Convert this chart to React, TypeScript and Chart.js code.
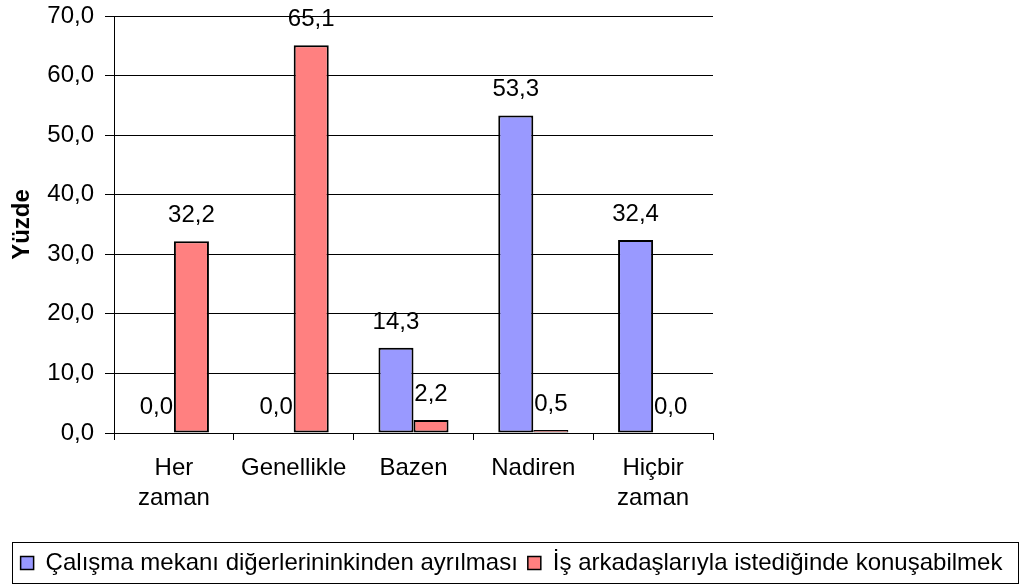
import React, { useEffect, useRef } from "react";
import { Chart, registerables } from "chart.js";

Chart.register(...registerables);

const categories: (string | string[])[] = [
  ["Her", "zaman"],
  "Genellikle",
  "Bazen",
  "Nadiren",
  ["Hiçbir", "zaman"],
];
const seriesNames = [
  "Çalışma mekanı diğerlerininkinden ayrılması",
  "İş arkadaşlarıyla istediğinde konuşabilmek",
];
const calismaMekani = [0.0, 0.0, 14.3, 53.3, 32.4];
const isArkadaslari = [32.2, 65.1, 2.2, 0.5, 0.0];
const yTickLabels = ["0,0", "10,0", "20,0", "30,0", "40,0", "50,0", "60,0", "70,0"];
const yTitle = "Yüzde";

const FONT = "'Liberation Sans', Arial, sans-serif";
const fmt = (v: number) => v.toFixed(1).replace(".", ",");

const dataLabelPlugin = {
  id: "dataLabels",
  afterDatasetsDraw(chart: any) {
    const ctx = chart.ctx;
    ctx.save();
    ctx.font = `24px ${FONT}`;
    ctx.fillStyle = "#000";
    ctx.textAlign = "center";
    ctx.textBaseline = "alphabetic";
    chart.data.datasets.forEach((ds: any, di: number) => {
      const meta = chart.getDatasetMeta(di);
      meta.data.forEach((el: any, i: number) => {
        const v = ds.data[i] as number;
        ctx.fillText(fmt(v), el.x, el.y - 19);
      });
    });
    ctx.restore();
  },
};

const legendBorderPlugin = {
  id: "legendBorder",
  afterDraw(chart: any) {
    const lg = chart.legend;
    if (!lg || !lg.legendHitBoxes || !lg.legendHitBoxes.length) return;
    const hb = lg.legendHitBoxes;
    const first = hb[0];
    const last = hb[hb.length - 1];
    const left = first.left - 9;
    const right = last.left + last.width + 15;
    const top = first.top - 9;
    const bottom = first.top + first.height + 9;
    const ctx = chart.ctx;
    ctx.save();
    ctx.strokeStyle = "#000";
    ctx.lineWidth = 1;
    ctx.strokeRect(Math.round(left) + 0.5, Math.round(top) + 0.5, Math.round(right - left), Math.round(bottom - top) - 1);
    ctx.restore();
  },
};

const zeroPad = (s: any) => {
  s.paddingTop = 0;
  s.paddingBottom = 0;
  s.paddingLeft = 0;
  s.paddingRight = 0;
};

const barBorder = (c: any) => {
  const v = c.raw as number;
  return typeof v === "number" && v < 1 ? 1 : 2;
};

export default function App() {
  const ref = useRef<HTMLCanvasElement | null>(null);
  useEffect(() => {
    if (!ref.current) return;
    const chart = new Chart(ref.current, {
      type: "bar",
      data: {
        labels: categories,
        datasets: [
          {
            label: seriesNames[0],
            data: calismaMekani,
            backgroundColor: "#9999FF",
            borderColor: "#000",
            borderWidth: barBorder,
            borderSkipped: false,
            categoryPercentage: 0.585,
            barPercentage: 1,
          },
          {
            label: seriesNames[1],
            data: isArkadaslari,
            backgroundColor: "#FF8080",
            borderColor: "#000",
            borderWidth: barBorder,
            borderSkipped: false,
            categoryPercentage: 0.585,
            barPercentage: 1,
          },
        ],
      },
      options: {
        responsive: true,
        maintainAspectRatio: false,
        animation: false,
        layout: { padding: { top: 16, left: 0, right: 0, bottom: 0 } },
        font: { family: FONT },
        plugins: {
          tooltip: { enabled: false },
          legend: {
            position: "bottom",
            labels: {
              color: "#000",
              font: { family: FONT, size: 24 },
              boxWidth: 13,
              boxHeight: 13,
              padding: 10,
              generateLabels: (chart: any) =>
                chart.data.datasets.map((ds: any, i: number) => ({
                  text: ds.label,
                  fillStyle: ds.backgroundColor,
                  strokeStyle: "#000",
                  lineWidth: 1.5,
                  hidden: false,
                  datasetIndex: i,
                  fontColor: "#000",
                })),
            },
          },
        },
        scales: {
          x: {
            grid: {
              display: true,
              drawOnChartArea: false,
              drawTicks: true,
              tickLength: 7,
              offset: true,
              color: "#000",
            },
            border: { display: true, color: "#000", width: 1 },
            ticks: {
              color: "#000",
              font: { family: FONT, size: 24, lineHeight: 1.25 },
              padding: 13,
              maxRotation: 0,
              autoSkip: false,
            },
            afterFit(s: any) {
              s.height = 108;
              zeroPad(s);
            },
          },
          y: {
            min: 0,
            max: 70,
            ticks: {
              stepSize: 10,
              color: "#000",
              font: { family: FONT, size: 24 },
              padding: 11,
              callback: (_v: any, i: number) => yTickLabels[i],
            },
            grid: { color: "#000", tickLength: 9, drawTicks: true },
            border: { display: true, color: "#000", width: 1 },
            title: {
              display: true,
              text: yTitle,
              color: "#000",
              font: { family: FONT, size: 24, weight: "bold" },
              padding: { top: 8, bottom: 4 },
            },
            afterFit(s: any) {
              s.width = 114;
              zeroPad(s);
            },
          },
          yRight: {
            type: "linear",
            position: "right",
            display: true,
            grid: { display: false },
            border: { display: false },
            ticks: { display: false },
            afterFit(s: any) {
              s.width = 310;
              zeroPad(s);
            },
          },
        },
      },
      plugins: [dataLabelPlugin, legendBorderPlugin],
    } as any);
    return () => chart.destroy();
  }, []);
  return (
    <div style={{ position: "fixed", left: 0, top: 0, width: 1023, height: 585, background: "#fff" }}>
      <canvas ref={ref} style={{ display: "block" }} />
    </div>
  );
}
